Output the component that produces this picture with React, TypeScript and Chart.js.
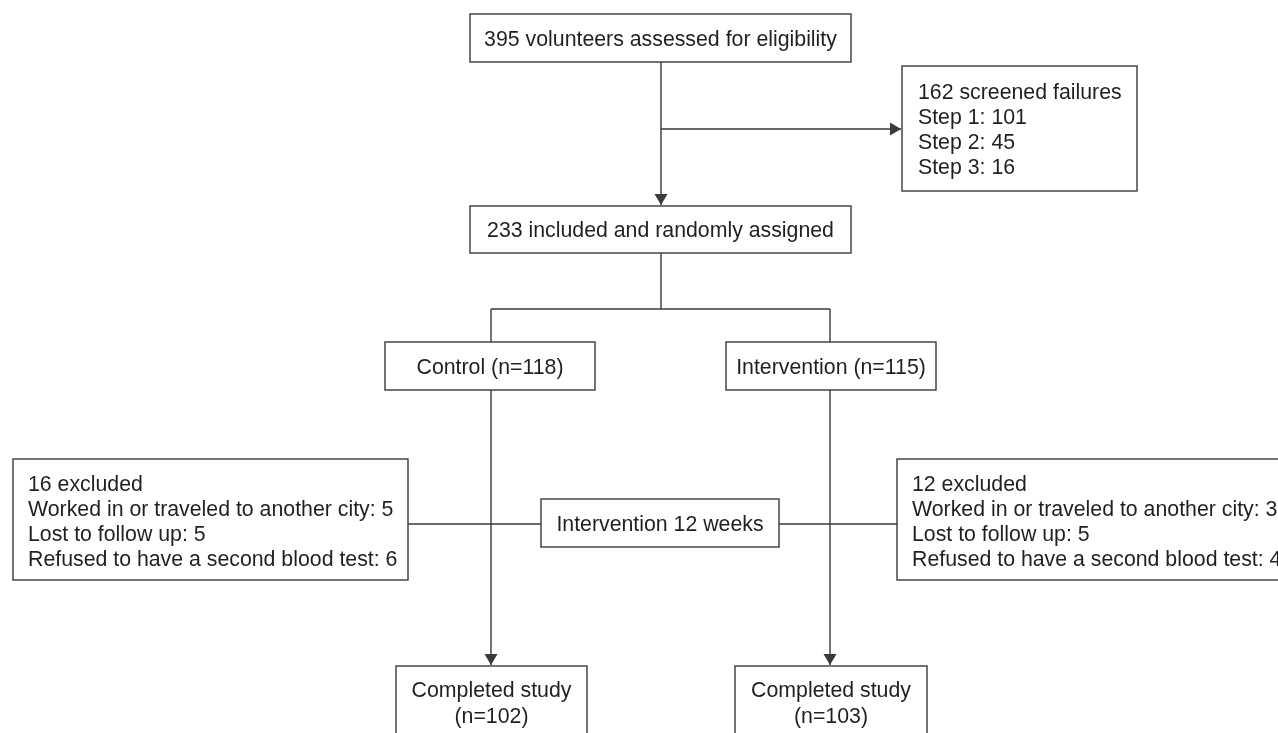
import React, { useEffect, useRef } from "react";
import { Chart, registerables } from "chart.js";

Chart.register(...registerables);

// ---- Flowchart data (layout units = page pixels) ----
const boxText: string[][] = [
  ["395 volunteers assessed for eligibility"],
  ["162 screened failures", "Step 1: 101", "Step 2: 45", "Step 3: 16"],
  ["233 included and randomly assigned"],
  ["Control (n=118)"],
  ["Intervention (n=115)"],
  ["16 excluded", "Worked in or traveled to another city: 5", "Lost to follow up: 5", "Refused to have a second blood test: 6"],
  ["Intervention 12 weeks"],
  ["12 excluded", "Worked in or traveled to another city: 3", "Lost to follow up: 5", "Refused to have a second blood test: 4"],
  ["Completed study", "(n=102)"],
  ["Completed study", "(n=103)"],
];
const boxLeft = [470, 902, 470, 385, 726, 13, 541, 897, 396, 735];
const boxTop = [14, 66, 206, 342, 342, 459, 499, 459, 666, 666];
const boxRight = [851, 1137, 851, 595, 936, 408, 779, 1300, 587, 927];
const boxBottom = [62, 191, 253, 390, 390, 580, 547, 580, 745, 745];
const boxAlign = ["center", "left", "center", "center", "center", "left", "center", "left", "center", "center"];
const textLeft = [0, 918, 0, 0, 0, 28, 0, 912, 0, 0];
const firstBaseline = [46, 98.5, 237, 374, 374, 490.5, 531, 490.5, 697, 697];
const lineStep = [25, 25, 25, 25, 25, 25, 25, 25, 26, 26];

const linkX0 = [661, 661, 661, 491, 491, 830, 491, 830, 408, 779];
const linkY0 = [62, 129, 253, 309, 309, 309, 390, 390, 524, 524];
const linkX1 = [661, 901, 661, 830, 491, 830, 491, 830, 541, 897];
const linkY1 = [205, 129, 309, 309, 342, 342, 665, 665, 524, 524];
const linkArrow = [true, true, false, false, false, false, true, true, false, false];

const LINE_COLOR = "#3a3a3a";
const TEXT_COLOR = "#231f20";
const FONT = '21.3px "Liberation Sans", Arial, Helvetica, sans-serif';

const flowPlugin = {
  id: "flowPlugin",
  afterDatasetsDraw(chart: any) {
    const ctx = chart.ctx as CanvasRenderingContext2D;
    const xs = chart.scales.x;
    const ys = chart.scales.y;
    ctx.save();
    // arrowheads
    ctx.fillStyle = LINE_COLOR;
    for (let i = 0; i < linkX0.length; i++) {
      if (!linkArrow[i]) continue;
      const ax = xs.getPixelForValue(linkX0[i]);
      const ay = ys.getPixelForValue(linkY0[i]);
      const bx = xs.getPixelForValue(linkX1[i]);
      const by = ys.getPixelForValue(linkY1[i]);
      const len = Math.hypot(bx - ax, by - ay) || 1;
      const ux = (bx - ax) / len;
      const uy = (by - ay) / len;
      const L = 11;
      const W = 6.5;
      ctx.beginPath();
      ctx.moveTo(bx, by);
      ctx.lineTo(bx - ux * L - uy * W, by - uy * L + ux * W);
      ctx.lineTo(bx - ux * L + uy * W, by - uy * L - ux * W);
      ctx.closePath();
      ctx.fill();
    }
    // boxes
    ctx.font = FONT;
    for (let i = 0; i < boxText.length; i++) {
      const l = xs.getPixelForValue(boxLeft[i]);
      const r = xs.getPixelForValue(boxRight[i]);
      const t = ys.getPixelForValue(boxTop[i]);
      const b = ys.getPixelForValue(boxBottom[i]);
      ctx.fillStyle = "#ffffff";
      ctx.fillRect(l, t, r - l, b - t);
      ctx.strokeStyle = LINE_COLOR;
      ctx.lineWidth = 1.4;
      ctx.strokeRect(l, t, r - l, b - t);
      ctx.fillStyle = TEXT_COLOR;
      ctx.textBaseline = "alphabetic";
      const lines = boxText[i];
      for (let j = 0; j < lines.length; j++) {
        const y = ys.getPixelForValue(firstBaseline[i] + j * lineStep[i]);
        if (boxAlign[i] === "left") {
          ctx.textAlign = "left";
          ctx.fillText(lines[j], xs.getPixelForValue(textLeft[i]), y);
        } else {
          ctx.textAlign = "center";
          ctx.fillText(lines[j], (l + r) / 2, y);
        }
      }
    }
    ctx.restore();
  },
};

export default function App() {
  const ref = useRef<HTMLCanvasElement | null>(null);
  useEffect(() => {
    document.body.style.margin = "0";
    document.body.style.background = "#ffffff";
    const canvas = ref.current;
    if (!canvas) return;
    const datasets = linkX0.map((_, i) => ({
      label: "link" + i,
      data: [
        { x: linkX0[i], y: linkY0[i] },
        { x: linkX1[i], y: linkY1[i] },
      ],
      showLine: true,
      borderColor: LINE_COLOR,
      borderWidth: 1.4,
      pointRadius: 0,
      fill: false,
    }));
    const chart = new Chart(canvas, {
      type: "scatter",
      data: { datasets },
      options: {
        animation: false,
        responsive: false,
        maintainAspectRatio: false,
        devicePixelRatio: 1,
        layout: { padding: 0 },
        plugins: { legend: { display: false }, tooltip: { enabled: false } },
        scales: {
          x: { type: "linear", min: 0, max: 1278, display: false },
          y: { type: "linear", min: 0, max: 733, reverse: true, display: false },
        },
      },
      plugins: [flowPlugin],
    } as any);
    return () => chart.destroy();
  }, []);
  return (
    <div style={{ width: 1278, height: 733, background: "#fff" }}>
      <canvas ref={ref} width={1278} height={733} style={{ display: "block" }} />
    </div>
  );
}
